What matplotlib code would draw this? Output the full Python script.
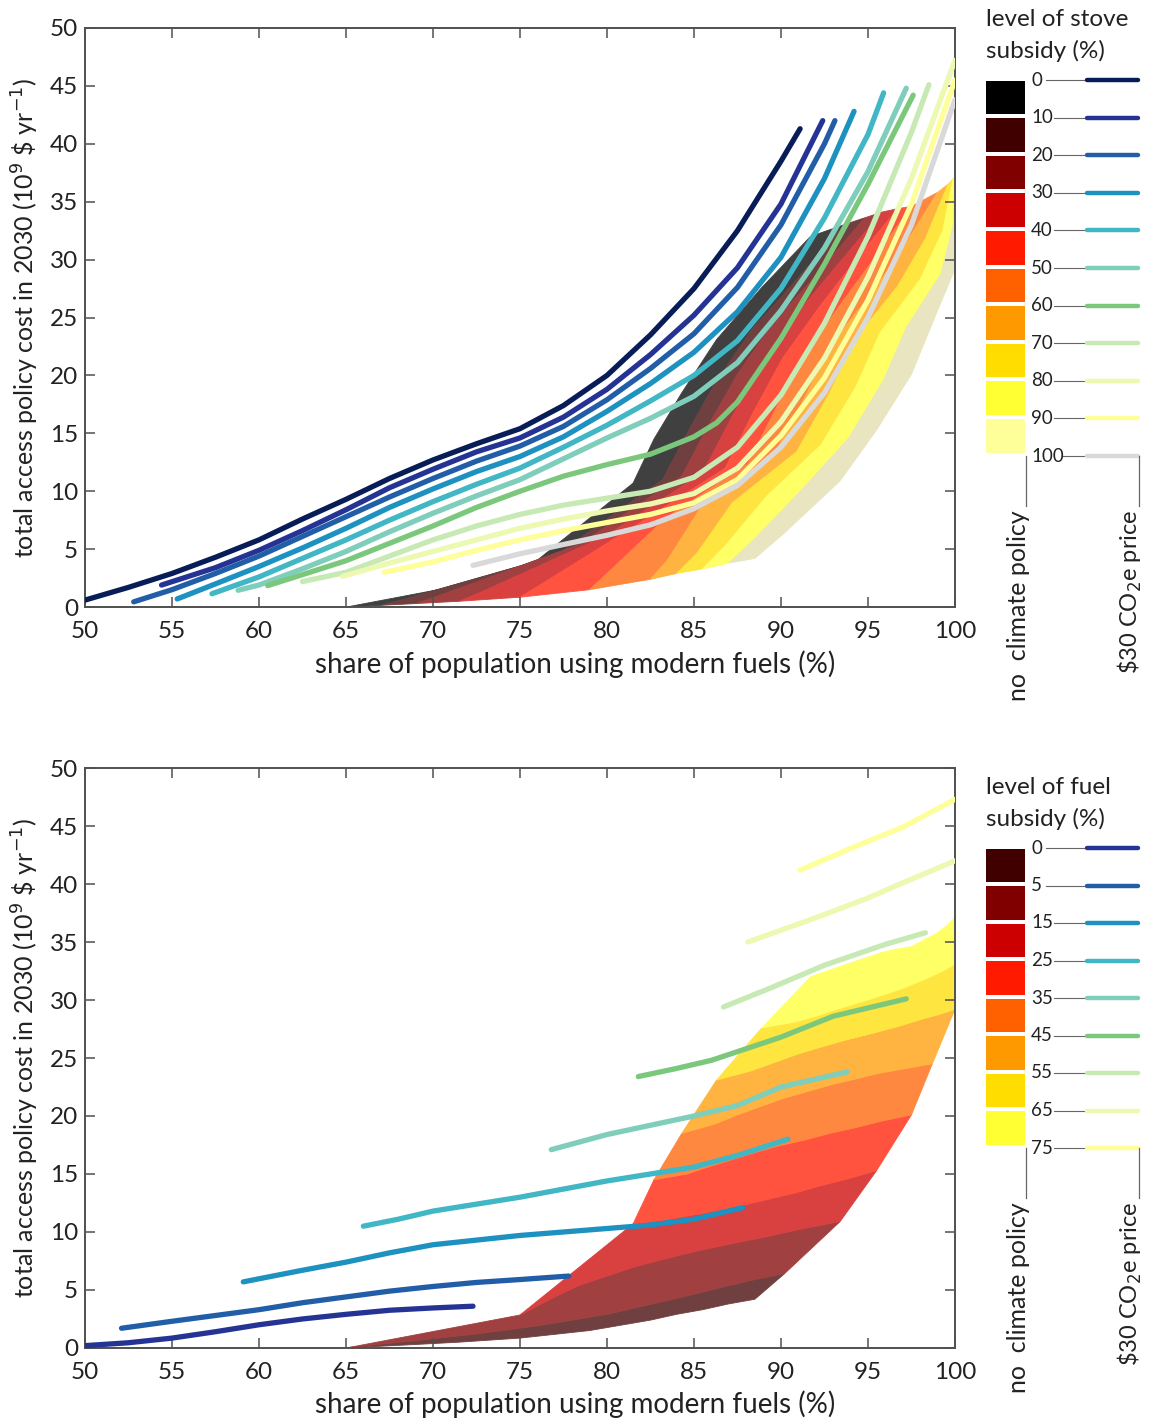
import matplotlib
matplotlib.use("Agg")
import matplotlib.pyplot as plt
from matplotlib.colors import to_rgb

plt.rcParams["font.family"] = ["Lato", "DejaVu Sans"]

# ---- data -------------------------------------------------------------
stove_levels = [0, 10, 20, 30, 40, 50, 60, 70, 80, 90, 100]
fuel_levels = [0, 5, 15, 25, 35, 45, 55, 65, 75]

# no-climate-policy surface: one row per fuel subsidy level, one value per stove level
share_grid = [
    [65.0, 67.0, 69.0, 71.5, 75.0, 79.0, 82.5, 84.0, 85.5, 87.0, 88.5],
    [65.2, 67.8, 70.0, 72.7, 76.2, 80.0, 83.5, 85.2, 86.8, 88.5, 90.2],
    [75.0, 77.0, 78.4, 80.0, 81.6, 83.4, 85.3, 87.2, 89.2, 91.3, 93.4],
    [81.5, 83.2, 84.3, 85.5, 86.8, 88.1, 89.5, 90.9, 92.3, 93.9, 95.5],
    [82.7, 84.6, 85.8, 87.1, 88.4, 89.8, 91.3, 92.8, 94.3, 95.9, 97.5],
    [84.3, 86.2, 87.5, 88.8, 90.1, 91.5, 92.9, 94.3, 95.7, 97.2, 98.7],
    [86.3, 88.3, 89.6, 90.9, 92.2, 93.6, 95.2, 96.7, 98.0, 99.2, 100.0],
    [88.9, 90.8, 92.0, 93.0, 94.1, 95.4, 97.0, 98.3, 99.3, 99.9, 100.0],
    [91.7, 93.6, 94.8, 95.8, 96.7, 97.5, 99.0, 99.6, 99.9, 100.0, 100.0],
]
cost_grid = [
    [0.0, 0.15, 0.3, 0.5, 0.85, 1.5, 2.4, 2.9, 3.3, 3.8, 4.2],
    [0.05, 0.45, 0.8, 1.25, 1.95, 2.9, 4.1, 4.7, 5.3, 5.9, 6.4],
    [2.84, 4.4, 5.4, 6.2, 7.0, 7.7, 8.4, 9.0, 9.6, 10.3, 10.9],
    [10.7, 11.0, 11.3, 11.6, 12.0, 12.4, 12.9, 13.4, 14.0, 14.6, 15.3],
    [14.5, 15.0, 15.6, 16.2, 16.8, 17.4, 17.9, 18.5, 19.0, 19.6, 20.1],
    [18.5, 19.3, 20.1, 20.8, 21.5, 22.1, 22.7, 23.2, 23.7, 24.1, 24.5],
    [23.1, 23.9, 24.6, 25.3, 25.9, 26.5, 27.1, 27.7, 28.3, 28.8, 29.2],
    [27.6, 28.1, 28.6, 29.1, 29.6, 30.2, 31.0, 31.8, 32.5, 33.0, 33.4],
    [32.0, 33.0, 33.6, 34.1, 34.4, 34.6, 35.8, 36.5, 37.0, 37.3, 37.6],
]

# $30 CO2e price curves, top panel (one per stove subsidy level)
stove_co2_x = [
    [50, 52.5, 55, 57.5, 60, 62.5, 65, 67.5, 70, 72.5, 75, 77.5, 80, 82.5, 85, 87.5, 90, 91.1],
    [54.4, 57.5, 60, 62.5, 65, 67.5, 70, 72.5, 75, 77.5, 80, 82.5, 85, 87.5, 90, 92.4],
    [52.8, 55, 57.5, 60, 62.5, 65, 67.5, 70, 72.5, 75, 77.5, 80, 82.5, 85, 87.5, 90, 92.5, 93.1],
    [55.3, 57.5, 60, 62.5, 65, 67.5, 70, 72.5, 75, 77.5, 80, 82.5, 85, 87.5, 90, 92.5, 94.2],
    [57.3, 60, 62.5, 65, 67.5, 70, 72.5, 75, 77.5, 80, 82.5, 85, 87.5, 90, 92.5, 95, 95.9],
    [58.8, 60, 62.5, 65, 67.5, 70, 72.5, 75, 77.5, 80, 82.5, 85, 87.5, 90, 92.5, 95, 97.2],
    [60.5, 62.5, 65, 67.5, 70, 72.5, 75, 77.5, 80, 82.5, 85, 86.3, 87.5, 90, 92.5, 95, 97.6],
    [62.5, 65, 67.5, 70, 72.5, 75, 77.5, 80, 82.5, 85, 87.5, 90, 92.5, 95, 97.5, 98.5],
    [64.8, 67.5, 70, 72.5, 75, 77.5, 80, 82.5, 85, 87.5, 90, 92.5, 95, 97.5, 100],
    [67.2, 70, 72.5, 75, 77.5, 80, 82.5, 85, 87.5, 90, 92.5, 95, 97.5, 100],
    [72.3, 75, 77.5, 80, 82.5, 85, 87.5, 90, 92.5, 95, 97.5, 100],
]
stove_co2_y = [
    [0.6, 1.7, 2.9, 4.3, 5.8, 7.6, 9.3, 11.1, 12.7, 14.1, 15.4, 17.4, 20.0, 23.5, 27.5, 32.5, 38.5, 41.3],
    [1.9, 3.4, 4.9, 6.6, 8.4, 10.3, 11.9, 13.4, 14.6, 16.4, 18.8, 21.8, 25.2, 29.3, 34.8, 42.0],
    [0.45, 1.5, 2.9, 4.4, 6.1, 7.8, 9.5, 11.1, 12.6, 13.9, 15.6, 17.9, 20.6, 23.6, 27.6, 33.0, 40.0, 42.0],
    [0.7, 2.0, 3.5, 5.1, 6.8, 8.6, 10.2, 11.7, 13.0, 14.7, 16.9, 19.3, 22.0, 25.5, 30.2, 37.0, 42.8],
    [1.15, 2.6, 4.2, 5.8, 7.5, 9.1, 10.6, 12.0, 13.8, 15.7, 17.8, 20.0, 23.0, 27.5, 33.6, 40.8, 44.4],
    [1.45, 1.9, 3.3, 4.8, 6.5, 8.1, 9.6, 11.0, 12.8, 14.6, 16.3, 18.2, 21.1, 25.6, 31.0, 37.6, 44.8],
    [1.85, 2.8, 4.0, 5.5, 7.0, 8.6, 10.0, 11.3, 12.3, 13.2, 14.7, 15.9, 17.7, 23.2, 29.6, 36.5, 44.2],
    [2.2, 3.0, 4.4, 5.8, 7.0, 8.0, 8.8, 9.4, 10.0, 11.2, 13.8, 18.3, 24.5, 32.0, 41.0, 45.1],
    [2.65, 3.8, 4.8, 5.8, 6.8, 7.6, 8.3, 8.9, 9.8, 12.0, 16.0, 21.5, 28.5, 37.0, 47.2],
    [3.0, 3.9, 4.9, 5.8, 6.6, 7.3, 8.0, 9.0, 11.0, 14.8, 19.8, 26.5, 34.8, 45.5],
    [3.6, 4.6, 5.4, 6.2, 7.1, 8.5, 10.5, 13.8, 18.5, 25.0, 33.0, 43.8],
]

# $30 CO2e price curves, bottom panel (one per fuel subsidy level)
fuel_co2_x = [
    [50, 52.5, 55, 57.5, 60, 62.5, 65, 67.5, 70, 72.3],
    [52.1, 55, 57.5, 60, 62.5, 65, 67.5, 70, 72.5, 75, 77.8],
    [59.1, 62.5, 65, 67.5, 70, 72.5, 75, 77.5, 80, 82.5, 85, 87.8],
    [66.0, 68, 70, 72.5, 75, 77.5, 80, 82.5, 85, 87.5, 90.4],
    [76.8, 80, 82.5, 85, 87.5, 90, 93.8],
    [81.8, 84, 86, 88, 90, 93, 97.2],
    [86.7, 89.5, 92.5, 96, 98.3],
    [88.1, 92.2, 95, 97, 100],
    [91.1, 94.2, 97, 100],
]
fuel_co2_y = [
    [0.2, 0.45, 0.85, 1.4, 2.0, 2.5, 2.9, 3.25, 3.45, 3.6],
    [1.7, 2.3, 2.8, 3.3, 3.9, 4.4, 4.9, 5.3, 5.65, 5.9, 6.2],
    [5.7, 6.7, 7.4, 8.2, 8.9, 9.3, 9.7, 10.0, 10.3, 10.6, 11.1, 12.1],
    [10.5, 11.1, 11.8, 12.4, 13.0, 13.7, 14.4, 15.0, 15.6, 16.6, 18.0],
    [17.1, 18.4, 19.2, 20.0, 20.9, 22.5, 23.8],
    [23.4, 24.1, 24.8, 25.8, 26.8, 28.6, 30.1],
    [29.4, 31.1, 33.0, 34.8, 35.8],
    [35.0, 37.2, 38.8, 40.1, 42.0],
    [41.2, 43.2, 44.9, 47.3],
]

stove_fill_colors = ["#000000", "#400000", "#800000", "#cc0000", "#ff1a00",
                     "#ff6000", "#ff9900", "#ffdd00", "#ffff33", "#ffff99"]
fuel_fill_colors = ["#400000", "#800000", "#cc0000", "#ff1a00",
                    "#ff6000", "#ff9900", "#ffdd00", "#ffff33"]
stove_line_colors = ["#081d58", "#253494", "#225ea8", "#1d91c0", "#41b6c4", "#7fcdbb",
                     "#7bc87c", "#c7e9b4", "#edf8b1", "#ffff99", "#d9d9d9"]
fuel_line_colors = ["#253494", "#225ea8", "#1d91c0", "#41b6c4", "#7fcdbb",
                    "#7bc87c", "#c7e9b4", "#edf8b1", "#ffff99"]

FILL_ALPHA = 0.75
TXT = "#222222"
AX_GRAY = "#505050"


def blend(c, a=FILL_ALPHA):
    r, g, b = to_rgb(c)
    return (a * r + 1 - a, a * g + 1 - a, a * b + 1 - a)


def style_axes(ax):
    ax.set_xlim(50, 100)
    ax.set_ylim(0, 50)
    ax.set_xticks(range(50, 101, 5))
    ax.set_yticks(range(0, 51, 5))
    ax.tick_params(direction="in", length=7, width=1.1, color=AX_GRAY,
                   top=True, right=True, labelsize=17.5, labelcolor=TXT)
    ax.tick_params(axis="x", pad=10)
    ax.tick_params(axis="y", pad=5)
    for sp in ax.spines.values():
        sp.set_color(AX_GRAY)
        sp.set_linewidth(1.4)
    ax.set_xlabel("share of population using modern fuels (%)", fontsize=20, color=TXT)
    ax.xaxis.set_label_coords(0.563, -0.074)
    ax.set_ylabel("total access policy cost in 2030 (10$^{9}$ \\$ yr$^{-1}$)",
                  fontsize=18, color=TXT)
    ax.yaxis.set_label_coords(-0.051, 0.5)


fig = plt.figure(figsize=(11.5, 14.21), dpi=100)
ax1 = fig.add_axes([0.0739, 0.5728, 0.7565, 0.4075])
ax2 = fig.add_axes([0.0739, 0.0514, 0.7565, 0.4081])

# ---- top panel: bands between stove subsidy levels ----------------------
nf = len(fuel_levels)
for k in range(len(stove_levels) - 1):
    xs = [share_grid[f][k] for f in range(nf)] + [share_grid[f][k + 1] for f in reversed(range(nf))]
    ys = [cost_grid[f][k] for f in range(nf)] + [cost_grid[f][k + 1] for f in reversed(range(nf))]
    col = "#e8e5c0" if k == len(stove_levels) - 2 else blend(stove_fill_colors[k])
    ax1.fill(xs, ys, color=col, lw=0.6, zorder=1)

for x, y, c in zip(stove_co2_x, stove_co2_y, stove_line_colors):
    ax1.plot(x, y, color=c, lw=3.8, solid_capstyle="round", solid_joinstyle="round", zorder=3)

# ---- bottom panel: bands between fuel subsidy levels --------------------
for j in range(nf - 1):
    xs = share_grid[j] + share_grid[j + 1][::-1]
    ys = cost_grid[j] + cost_grid[j + 1][::-1]
    ax2.fill(xs, ys, color=blend(fuel_fill_colors[j]), lw=0.6, zorder=1)

for x, y, c in zip(fuel_co2_x, fuel_co2_y, fuel_line_colors):
    ax2.plot(x, y, color=c, lw=3.8, solid_capstyle="round", solid_joinstyle="round", zorder=3)

for ax in (ax1, ax2):
    style_axes(ax)

# ---- legends, drawn in pixel coordinates ---------------------------------
leg = fig.add_axes([0, 0, 1, 1], facecolor="none")
leg.set_xlim(0, 1150)
leg.set_ylim(1421, 0)
leg.axis("off")


def draw_legend(title_lines, labels, patch_colors, line_colors, y0, pitch):
    leg.text(986, y0 - 60, title_lines[0], fontsize=17.5, color=TXT, ha="left", va="center")
    leg.text(986, y0 - 29, title_lines[1], fontsize=17.5, color=TXT, ha="left", va="center")
    ys = [y0 + i * pitch for i in range(len(labels))]
    for i, c in enumerate(patch_colors):
        leg.add_patch(plt.Rectangle((986, ys[i] + 0.5), 39, pitch - 4, color=c, lw=0))
    for y, lab, c in zip(ys, labels, line_colors):
        leg.text(1031, y, str(lab), fontsize=13.5, color=TXT, ha="left", va="center")
        x_start = 1031 + 8.5 * len(str(lab)) + 6
        leg.plot([x_start, 1087], [y, y], color="#666666", lw=0.8)
        leg.plot([1087, 1138], [y, y], color=c, lw=3.2, solid_capstyle="round")
    y_end = ys[-1]
    leg.plot([1025.5, 1025.5], [y_end, y_end + 50], color="#666666", lw=0.9)
    leg.plot([1138.5, 1138.5], [y_end, y_end + 50], color="#666666", lw=0.9)
    leg.text(1018, y_end + 54, "no  climate policy", rotation=90, fontsize=18,
             color=TXT, ha="center", va="top")
    leg.text(1130, y_end + 54, "\\$30 CO$_2$e price", rotation=90, fontsize=17,
             color=TXT, ha="center", va="top")


draw_legend(["level of stove", "subsidy (%)"], stove_levels, stove_fill_colors,
            stove_line_colors, 80, 37.6)
draw_legend(["level of fuel", "subsidy (%)"], fuel_levels, fuel_fill_colors,
            fuel_line_colors, 848, 37.5)

fig.savefig("out.png", dpi=100)
